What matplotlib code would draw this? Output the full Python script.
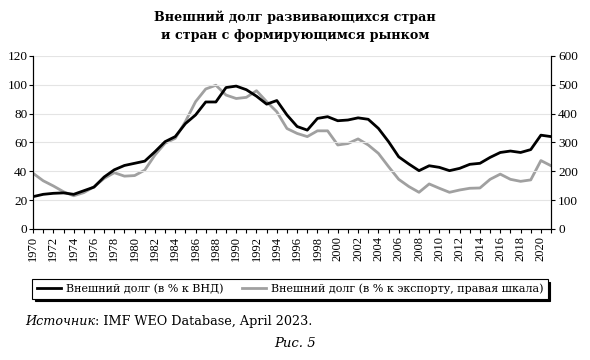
import numpy as np
import matplotlib
matplotlib.use("Agg")
import matplotlib.pyplot as plt
from matplotlib.ticker import MultipleLocator

plt.rcParams["font.family"] = ["Liberation Serif", "DejaVu Serif"]
WIDE = ["DejaVu Serif"]

# --- data ---
years = list(range(1970, 2022))
debt_gni = [22.4, 24, 24.7, 25, 24, 26.5, 29, 36, 41, 44, 45.5, 47, 53.5, 60.5, 64,
            73, 79, 88, 88, 98, 99, 96.5, 92, 86.5, 89, 79, 71, 68.5, 76.6, 77.8,
            75, 75.5, 77, 76, 69.7, 60.5, 50, 45, 40.4, 43.8, 42.7, 40.4, 42, 44.8,
            45.5, 49.6, 53, 54, 53, 55, 65, 64]
debt_exp = [193, 167, 149, 129, 115, 126, 146, 175, 195, 183, 185, 204, 256, 297, 314,
            372, 441, 485, 498, 464, 452, 456, 479, 441, 406, 348, 331, 320, 340, 340,
            291, 296, 312, 291, 262, 216, 172, 147, 127, 156, 141, 127, 135, 141,
            142, 172, 190, 172, 165, 170, 237, 219]
label_gni = "Внешний долг (в % к ВНД)"
label_exp = "Внешний долг (в % к экспорту, правая шкала)"
title = "Внешний долг развивающихся стран\nи стран с формирующимся рынком"

fig = plt.figure(figsize=(5.9, 3.6), dpi=100)
ax = fig.add_axes([0.056, 0.364, 0.878, 0.481])
ax2 = ax.twinx()

l1, = ax.plot(years, debt_gni, color="black", lw=2.0, zorder=3)
l2, = ax2.plot(years, debt_exp, color="#a0a0a0", lw=2.0)
ax.set_zorder(ax2.get_zorder() + 1)
ax.patch.set_visible(False)

ax.set_xlim(1970, 2021)
ax.set_ylim(0, 120)
ax2.set_ylim(0, 600)
ax.yaxis.set_major_locator(MultipleLocator(20))
ax2.yaxis.set_major_locator(MultipleLocator(100))
ax.set_xticks(years)
ax.set_xticklabels([str(y) if y % 2 == 0 else "" for y in years], rotation=90)
ax.grid(axis="y", color="#e4e4e4", lw=0.8)
ax.set_axisbelow(True)
for a in (ax, ax2):
    a.spines["top"].set_visible(False)
    a.tick_params(labelsize=9.5, length=3, width=0.8, direction="out")
ax.tick_params(axis="x", length=3, pad=2, labelsize=9)
ax.tick_params(axis="y", pad=1)
ax2.tick_params(axis="y", pad=2)

fig.text(0.5, 0.927, title, ha="center", va="center", fontsize=9.2,
         fontweight="bold", linespacing=1.45, family=WIDE)

leg = fig.legend([l1, l2], [label_gni, label_exp], loc="center",
                 bbox_to_anchor=(0.055, 0.165, 0.873, 0.065), mode="expand", ncol=2,
                 prop={"family": WIDE, "size": 8.0}, frameon=True, fancybox=False,
                 handlelength=2.2, handletextpad=0.4, columnspacing=1.5, borderaxespad=0,
                 shadow={"color": "black", "alpha": 1})
leg.get_frame().set_edgecolor("black")
leg.get_frame().set_linewidth(0.8)

src = fig.text(0.042, 0.106, "Источник", style="italic", fontsize=9.2, va="center",
               family=WIDE)
ax.annotate(": IMF WEO Database, April 2023.", xy=(1, 0.5), xycoords=src,
            va="center", ha="left", fontsize=9.2, family=WIDE, annotation_clip=False)
fig.text(0.5, 0.047, "Рис. 5", style="italic", fontsize=9.5, ha="center", va="center",
         family=WIDE)

fig.savefig("out.png", dpi=100)
